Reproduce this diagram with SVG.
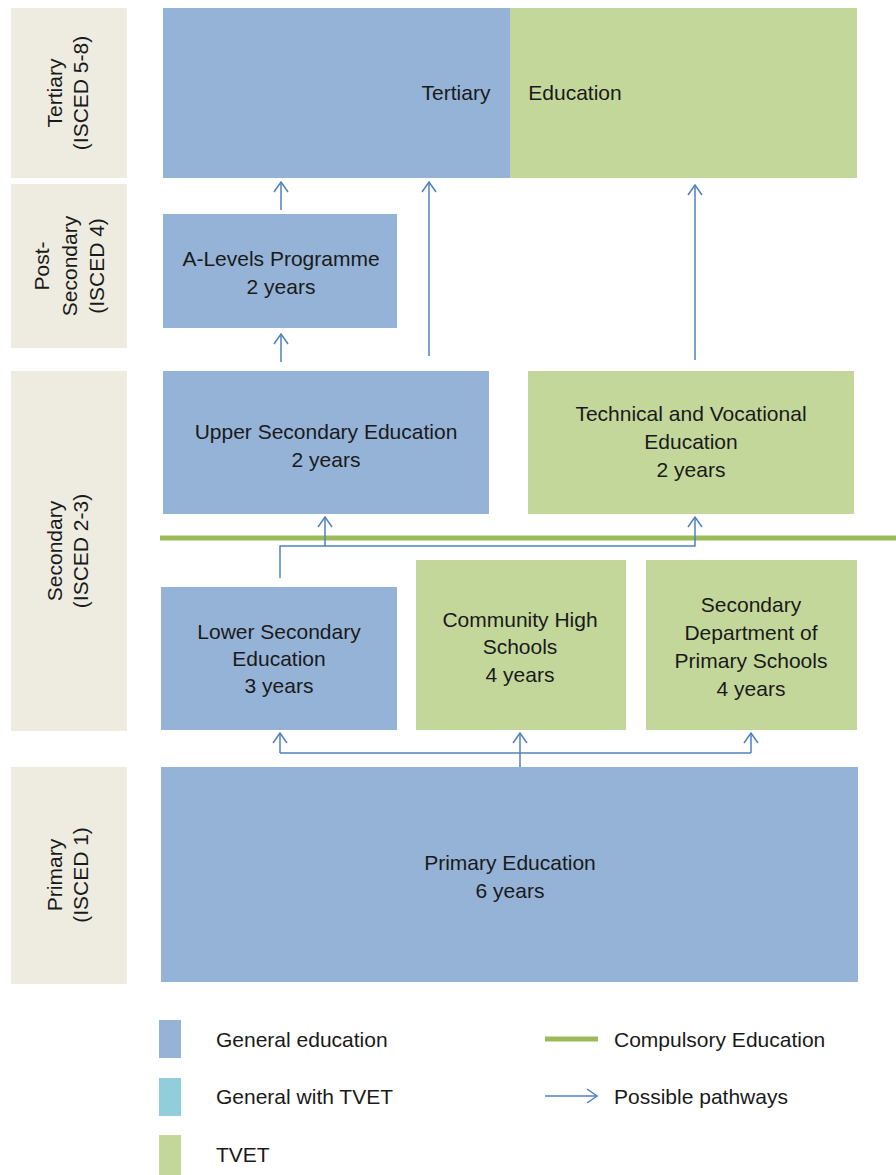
<svg xmlns="http://www.w3.org/2000/svg" width="896" height="1175" viewBox="0 0 896 1175">
<style>
text{font-family:"Liberation Sans",Arial,sans-serif;font-size:21px;fill:#1a1a1a;text-anchor:middle}
.lvl{fill:#EEECE1}
.gen{fill:#95B3D7}
.tvet{fill:#C4D79B}
.gt{fill:#92CDDC}
.conn{fill:none;stroke:#4F81BD;stroke-width:1.5}
.comp{stroke:#9BBB59;stroke-width:5}
.lt{text-anchor:start}
</style>
<defs>
<marker id="ah" viewBox="0 0 12 16" refX="11" refY="8" markerWidth="12" markerHeight="16" markerUnits="userSpaceOnUse" orient="auto">
<path d="M1,1 L11,8 L1,15" fill="none" stroke="#4F81BD" stroke-width="1.5"/>
</marker>
</defs>
<rect width="896" height="1175" fill="#fff"/>
<g id="lvl-tertiary"><rect class="lvl" x="11" y="8" width="116" height="170"/>
<text transform="translate(55,93) rotate(-90)" dy="7">Tertiary</text>
<text transform="translate(81,93) rotate(-90)" dy="7">(ISCED 5-8)</text></g>
<g id="lvl-post"><rect class="lvl" x="11" y="184" width="116" height="164"/>
<text transform="translate(42,266) rotate(-90)" dy="7">Post-</text>
<text transform="translate(70,266) rotate(-90)" dy="7">Secondary</text>
<text transform="translate(97,266) rotate(-90)" dy="7">(ISCED 4)</text></g>
<g id="lvl-secondary"><rect class="lvl" x="11" y="371" width="116" height="360"/>
<text transform="translate(55,551) rotate(-90)" dy="7">Secondary</text>
<text transform="translate(81,551) rotate(-90)" dy="7">(ISCED 2-3)</text></g>
<g id="lvl-primary"><rect class="lvl" x="11" y="767" width="116" height="217"/>
<text transform="translate(55,875) rotate(-90)" dy="7">Primary</text>
<text transform="translate(81,875) rotate(-90)" dy="7">(ISCED 1)</text></g>

<g id="tertiary"><rect class="gen" x="163" y="8" width="347" height="170"/><rect class="tvet" x="510" y="8" width="347" height="170"/>
<text x="456" y="100">Tertiary</text><text x="575" y="100">Education</text></g>
<g id="alevels"><rect class="gen" x="163" y="214" width="234" height="114"/>
<text x="281" y="266">A-Levels Programme</text><text x="281" y="294">2 years</text></g>
<g id="upper"><rect class="gen" x="163" y="371" width="326" height="143"/>
<text x="326" y="439">Upper Secondary Education</text><text x="326" y="467">2 years</text></g>
<g id="tve"><rect class="tvet" x="528" y="371" width="326" height="143"/>
<text x="691" y="421">Technical and Vocational</text><text x="691" y="449">Education</text><text x="691" y="477">2 years</text></g>
<g id="lower"><rect class="gen" x="161" y="587" width="236" height="143"/>
<text x="279" y="639">Lower Secondary</text><text x="279" y="666">Education</text><text x="279" y="693">3 years</text></g>
<g id="community"><rect class="tvet" x="416" y="560" width="210" height="170"/>
<text x="520" y="627">Community High</text><text x="520" y="654">Schools</text><text x="520" y="682">4 years</text></g>
<g id="secdept"><rect class="tvet" x="646" y="560" width="211" height="170"/>
<text x="751" y="612">Secondary</text><text x="751" y="640">Department of</text><text x="751" y="668">Primary Schools</text><text x="751" y="696">4 years</text></g>
<g id="primary"><rect class="gen" x="161" y="767" width="697" height="215"/>
<text x="510" y="870">Primary Education</text><text x="510" y="898">6 years</text></g>

<g id="compulsory"><line class="comp" x1="160" y1="538" x2="896" y2="538"/></g>

<g id="connectors">
<path class="conn" d="M281,210 V182" marker-end="url(#ah)"/>
<path class="conn" d="M429,356 V182" marker-end="url(#ah)"/>
<path class="conn" d="M695,360 V185" marker-end="url(#ah)"/>
<path class="conn" d="M281,362 V334" marker-end="url(#ah)"/>
<path class="conn" d="M280,578 V546 H695 V517" marker-end="url(#ah)"/>
<path class="conn" d="M325,546 V517" marker-end="url(#ah)"/>
<path class="conn" d="M520,767 V753"/>
<path class="conn" d="M280,753 H751"/>
<path class="conn" d="M280,753 V733" marker-end="url(#ah)"/>
<path class="conn" d="M520,753 V733" marker-end="url(#ah)"/>
<path class="conn" d="M751,753 V733" marker-end="url(#ah)"/>
</g>

<g id="legend">
<rect class="gen" x="159" y="1020" width="22" height="38"/>
<text class="lt" x="216" y="1047">General education</text>
<rect class="gt" x="159" y="1078" width="22" height="38"/>
<text class="lt" x="216" y="1104">General with TVET</text>
<rect class="tvet" x="159" y="1135" width="22" height="40"/>
<text class="lt" x="216" y="1162">TVET</text>
<line class="comp" x1="545" y1="1039" x2="598" y2="1039"/>
<text class="lt" x="614" y="1047">Compulsory Education</text>
<path class="conn" d="M545,1096 H597" marker-end="url(#ah)"/>
<text class="lt" x="614" y="1104">Possible pathways</text>
</g>
</svg>
